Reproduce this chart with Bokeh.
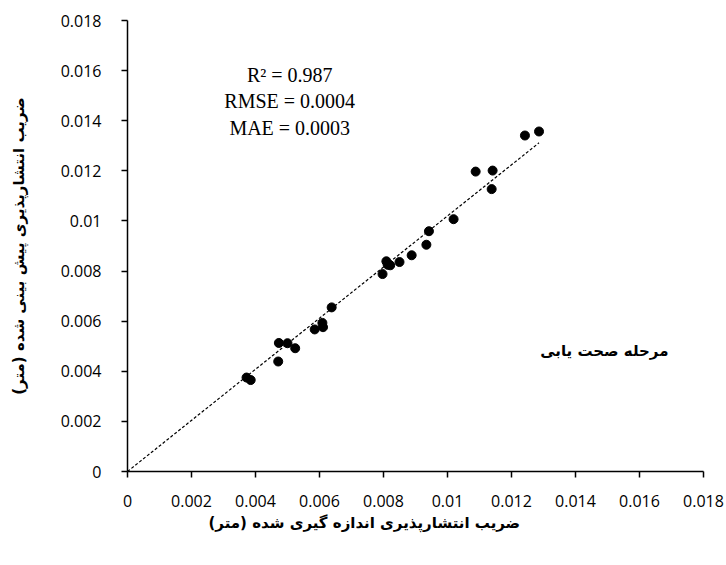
from bokeh.plotting import figure
from bokeh.models import Range1d, FixedTicker, Label, Title, ColumnDataSource
from bokeh.embed import file_html
from bokeh.resources import INLINE

# Measured vs predicted dispersion coefficient (m), validation stage
measured = [0.01242, 0.01286, 0.01088, 0.01141, 0.01138, 0.01019, 0.00942,
            0.00934, 0.00888, 0.00850, 0.00809, 0.00813, 0.00821, 0.00797,
            0.00638, 0.00609, 0.00611, 0.00585, 0.00473, 0.00500, 0.00524,
            0.00471, 0.00372, 0.00385]
predicted = [0.01341, 0.01357, 0.01197, 0.01201, 0.01127, 0.01007, 0.00959,
             0.00905, 0.00863, 0.00836, 0.00839, 0.00825, 0.00823, 0.00788,
             0.00655, 0.00593, 0.00576, 0.00567, 0.00513, 0.00512, 0.00492,
             0.00439, 0.00375, 0.00365]

# Trend line through the origin
fit_slope = 1.02
fit_x = [0.0, max(measured)]
fit_y = [fit_slope * v for v in fit_x]

tick_values = [0.0, 0.002, 0.004, 0.006, 0.008, 0.010, 0.012, 0.014, 0.016, 0.018]
tick_labels = ["0", "0.002", "0.004", "0.006", "0.008", "0.01", "0.012",
               "0.014", "0.016", "0.018"]

stats_lines = ["R\u00b2 = 0.987", "RMSE = 0.0004", "MAE = 0.0003"]
stage_title = "مرحله صحت یابی"
x_title = "ضریب انتشارپذیری اندازه گیری شده (متر)"
y_title = "ضریب انتشارپذیری پیش بینی شده (متر)"

p = figure(width=726, height=565, output_backend="svg", toolbar_location=None,
           x_range=Range1d(0, 0.018), y_range=Range1d(0, 0.018),
           min_border_left=127, min_border_right=23,
           min_border_top=20, min_border_bottom=94)
p.outline_line_color = None
p.grid.visible = False
p.background_fill_color = "white"
p.border_fill_color = "white"

overrides = {t: s for t, s in zip(tick_values, tick_labels)}
for ax in (p.xaxis[0], p.yaxis[0]):
    ax.ticker = FixedTicker(ticks=tick_values, minor_ticks=[])
    ax.major_label_overrides = overrides
    ax.axis_line_color = "black"
    ax.axis_line_width = 1.5
    ax.major_tick_line_color = "black"
    ax.major_tick_line_width = 1.5
    ax.major_tick_in = 0
    ax.major_tick_out = 6
    ax.minor_tick_line_color = None
    ax.major_label_text_font = "Open Sans"
    ax.major_label_text_font_size = "16px"
    ax.major_label_text_color = "black"
    ax.axis_label_text_font = "DejaVu Sans"
    ax.axis_label_text_font_style = "bold"
    ax.axis_label_text_color = "black"

p.xaxis.major_label_standoff = 17

p.yaxis.axis_label = y_title
p.yaxis.axis_label_text_font_size = "15px"
p.yaxis.major_label_standoff = 20
p.yaxis.axis_label_standoff = 30

# x-axis title as a panel below the axis, placed from its left edge
p.add_layout(Title(text=x_title, align="left", offset=81,
                   text_font="DejaVu Sans", text_font_style="bold",
                   text_font_size="15px", text_color="black", standoff=4),
             "below")

p.line(fit_x, fit_y, line_color="black", line_width=1.2, line_dash="3 2")

src = ColumnDataSource(data=dict(x=measured, y=predicted))
p.scatter("x", "y", source=src, size=9, marker="circle",
          fill_color="black", line_color="black")

for i, txt in enumerate(stats_lines):
    p.add_layout(Label(x=0.00507, y=0.01584 - i * 0.00106, text=txt,
                       text_font="Liberation Serif", text_font_size="20px",
                       text_color="black", text_align="center",
                       text_baseline="middle"))

p.add_layout(Label(x=0.0149, y=0.0048, text=stage_title,
                   text_font="DejaVu Sans", text_font_style="bold",
                   text_font_size="15px", text_color="black",
                   text_align="center", text_baseline="middle"))

open("out.html", "w").write(file_html(p, INLINE))
